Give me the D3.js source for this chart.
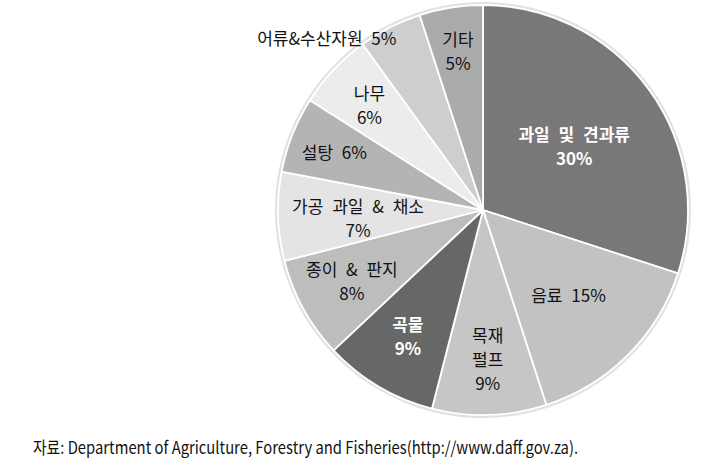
<!DOCTYPE html>
<html><head><meta charset="utf-8">
<script src="https://cdn.jsdelivr.net/npm/d3@7/dist/d3.min.js"></script>
<style>body{margin:0;background:#fff}svg{display:block}</style>
</head><body>
<svg id="c" width="717" height="471"></svg>
<script>
const categories = ["과일 및 견과류","음료","목재 펄프","곡물","종이 & 판지","가공 과일 & 채소","설탕","나무","어류&수산자원","기타"];
const values = [30,15,9,9,8,7,6,6,5,5];
const colors = ["#787878","#c2c2c2","#c6c6c6","#676767","#bdbdbd","#e4e4e4","#b4b4b4","#ececec","#cecece","#ababab"];
const labelModes = ["2","1","3","2","2","2","1","2","1","2"]; // 1: one line, 2: name / pct, 3: each word / pct
const labelRadius = [0.55,0.59,0.73,0.72,0.73,0.61,0.78,0.76,0.93,0.78];
const labelNudgeY = [3,0,0,0,0,5,2,3,-1,0];
const labelAnchor = ["middle","middle","middle","middle","middle","middle","middle","middle","end","middle"];
const labelWhite = [true,false,false,true,false,false,false,false,false,false];
const source = "자료: Department of Agriculture, Forestry and Fisheries(http://www.daff.gov.za).";

const svg = d3.select("#c");
const cx = 483, cy = 210, R = 205;
const g = svg.append("g").attr("transform", `translate(${cx},${cy})`);
const data = categories.map((c,i)=>({name:c, value:values[i], i}));
const pie = d3.pie().value(d=>d.value).sort(null);
const arcs = pie(data);
const arc = d3.arc().innerRadius(0).outerRadius(R);

g.append("circle").attr("r", R+1.5).attr("fill","none").attr("stroke","#e2e2e2").attr("stroke-width",3);
g.selectAll("path.s").data(arcs).join("path").attr("class","s")
  .attr("d", arc).attr("fill", d=>colors[d.data.i])
  .attr("stroke","#fff").attr("stroke-width",1.8).attr("stroke-linejoin","round");

const font = "'Noto Sans CJK KR', 'Noto Sans', sans-serif";
arcs.forEach(a=>{
  const i = a.data.i;
  const la = d3.arc().innerRadius(R*labelRadius[i]).outerRadius(R*labelRadius[i]);
  const [x,y] = la.centroid(a);
  const pct = a.data.value + "%";
  let lines;
  if (labelModes[i]==="1") lines=[a.data.name+" "+pct];
  else if (labelModes[i]==="2") lines=[a.data.name, pct];
  else lines=[...a.data.name.split(" "), pct];
  const lh = 24;
  const t = g.append("text").attr("text-anchor", labelAnchor[i])
    .attr("font-family", font).attr("font-size", 17)
    .attr("word-spacing", 5)
    .attr("font-weight", labelWhite[i] ? "bold" : "normal")
    .attr("fill", labelWhite[i] ? "#fff" : "#111");
  const y0 = y + labelNudgeY[i] - (lines.length-1)*lh/2 + 6;
  lines.forEach((l,k)=>t.append("tspan").attr("x",x).attr("y",y0+k*lh).text(l));
});

svg.append("text").attr("x",33).attr("y",454)
  .attr("font-family","'Liberation Sans Narrow','Noto Sans CJK KR',sans-serif")
  .attr("font-size",17).attr("fill","#111")
  .attr("textLength",545).attr("lengthAdjust","spacingAndGlyphs")
  .text(source);
</script>
</body></html>
